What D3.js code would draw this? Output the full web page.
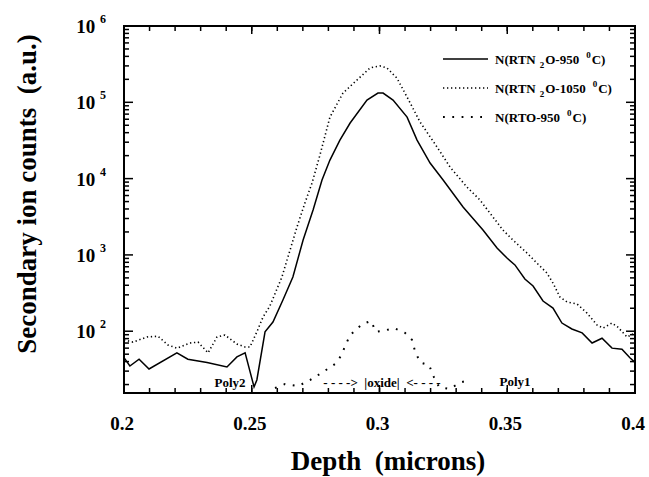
<!DOCTYPE html>
<html lang="en">
<head>
    <meta charset="UTF-8">
    <title>SIMS nitrogen depth profile</title>
    <script src="https://d3js.org/d3.v7.min.js"></script>
    <style>
        body { margin: 0; background: white; }
        svg { display: block; font-family: "Liberation Serif", "Times New Roman", serif; font-weight: bold; }
        text { white-space: pre; }
    </style>
</head>
<body>
    <svg id="chart" width="649" height="477"></svg>

    <script>
        // N(RTN2O-950 C), solid line
        const depth950 = [0.2, 0.2023, 0.2059, 0.2098, 0.2207, 0.2250, 0.2325, 0.2403, 0.2442, 0.2474,
            0.2509, 0.2520, 0.2552, 0.2583, 0.2622, 0.2661, 0.2701, 0.2740, 0.2775, 0.2806, 0.2845,
            0.2885, 0.2951, 0.2994, 0.3014, 0.3053, 0.3108, 0.3147, 0.3198, 0.3249, 0.3327, 0.3405,
            0.3460, 0.3499, 0.3530, 0.3569, 0.3601, 0.3640, 0.3679, 0.3714, 0.3753, 0.3793, 0.3832,
            0.3871, 0.3910, 0.3949, 0.3980, 0.4];
        const counts950 = [45, 35, 43, 32, 52, 43, 39, 34, 46, 52,
            18.6, 23, 98, 132, 257, 513, 1570, 3870, 9590, 17500, 32000,
            53500, 107000, 132000, 132000, 107000, 64000, 32000, 16000, 9590, 4250, 2120,
            1230, 910, 740, 483, 391, 249, 201, 128, 107, 95, 70,
            81, 60, 58, 45, 39];

        // N(RTN2O-1050 C), fine dotted line
        const depth1050 = [0.2, 0.2035, 0.2090, 0.2133, 0.2172, 0.2207, 0.2258, 0.2290, 0.2329, 0.2364,
            0.2395, 0.2442, 0.2474, 0.2493, 0.2520, 0.2544, 0.2571, 0.2618, 0.2650, 0.2677, 0.2708,
            0.2736, 0.2767, 0.2806, 0.2857, 0.2912, 0.2963, 0.3002, 0.3029, 0.3068, 0.3108, 0.3159,
            0.3225, 0.3276, 0.3342, 0.3393, 0.3444, 0.3483, 0.3522, 0.3577, 0.3616, 0.3655, 0.3679,
            0.3706, 0.3734, 0.3773, 0.3812, 0.3851, 0.3875, 0.3910, 0.3933, 0.3969, 0.4];
        const counts1050 = [77, 72, 84, 86, 66, 60, 70, 72, 52, 84,
            89, 68, 62, 62, 98, 153, 214, 513, 1160, 2320, 4790,
            8750, 20400, 64000, 132000, 196000, 282000, 300000, 282000, 208000, 117000, 55000,
            26000, 14200, 7760, 5250, 3140, 2120, 1570, 1060, 783, 580, 428,
            281, 241, 228, 173, 121, 110, 128, 113, 84, 95];

        // N(RTO-950 C), sparse dots
        const depthRTO = [0.2591, 0.2630, 0.2681, 0.2728, 0.2779, 0.2826, 0.2849, 0.2869, 0.2885, 0.2932,
            0.2967, 0.2986, 0.3014, 0.3057, 0.3100, 0.3127, 0.3139, 0.3159, 0.3194, 0.3213, 0.3233,
            0.3272, 0.3323, 0.3354];
        const countsRTO = [18, 20.3, 19.1, 22.9, 29.2, 37.2, 47.3, 68, 89, 124,
            136, 98, 101, 110, 95, 77, 55, 39, 36, 25, 18.6,
            17.5, 21.6, 23];

        const xMajorTicks = [0.2, 0.25, 0.3, 0.35, 0.4];
        const xTickLabels = ["0.2", "0.25", "0.3", "0.35", "0.4"];
        const yExponents = [2, 3, 4, 5, 6];

        const legendNames = [["N(RTN", "2", "O-950", "0", "C)"],
                             ["N(RTN", "2", "O-1050", "0", "C)"],
                             ["N(RTO-950", "", "", "0", "C)"]];

        const svg = d3.select("#chart");
        const plotLeft = 124, plotRight = 635, plotTop = 26, plotBottom = 393;

        let x = d3.scaleLinear().domain([0.2, 0.4]).range([plotLeft, plotRight]);
        let y = d3.scaleLog().domain([15.5, 1e6]).range([plotBottom, plotTop]);

        // tick positions
        let xMinor = d3.range(21).map(i => +(0.2 + i * 0.01).toFixed(2));
        let yMajor = yExponents.map(e => Math.pow(10, e));
        let yMinor = [];
        [1, 2, 3, 4, 5].forEach(e => {
            for (let m = 2; m <= 9; m++) {
                let v = m * Math.pow(10, e);
                if (v >= 15.5 && v < 1e6) yMinor.push(v);
            }
        });

        // inward ticks on all four sides
        let tickGroup = svg.append("g");
        function addTick(x1, y1, x2, y2) {
            tickGroup.append("line")
                .attr("x1", x1).attr("y1", y1).attr("x2", x2).attr("y2", y2)
                .attr("stroke", "black").attr("stroke-width", 1.5);
        }
        yMinor.forEach(v => { addTick(plotLeft, y(v), plotLeft + 5, y(v)); addTick(plotRight, y(v), plotRight - 5, y(v)); });
        yMajor.forEach(v => { addTick(plotLeft, y(v), plotLeft + 9, y(v)); addTick(plotRight, y(v), plotRight - 9, y(v)); });
        xMinor.forEach(v => { addTick(x(v), plotBottom, x(v), plotBottom - 5); addTick(x(v), plotTop, x(v), plotTop + 5); });
        xMajorTicks.forEach(v => { addTick(x(v), plotBottom, x(v), plotBottom - 8); addTick(x(v), plotTop, x(v), plotTop + 8); });

        // frame
        svg.append("rect")
            .attr("x", plotLeft).attr("y", plotTop)
            .attr("width", plotRight - plotLeft).attr("height", plotBottom - plotTop)
            .attr("fill", "none").attr("stroke", "black").attr("stroke-width", 2);

        // tick labels
        svg.selectAll(".xlab")
            .data(xMajorTicks)
            .enter().append("text")
            .attr("x", d => x(d) - 2)
            .attr("y", 430)
            .attr("text-anchor", "middle")
            .attr("font-size", 19)
            .text((d, i) => xTickLabels[i]);

        let ylab = svg.selectAll(".ylab")
            .data(yExponents)
            .enter().append("text")
            .attr("x", 106)
            .attr("y", d => y(Math.pow(10, d)) + 7)
            .attr("text-anchor", "end")
            .attr("font-size", 19);
        ylab.append("tspan").text("10 ");
        ylab.append("tspan").attr("font-size", 12).attr("dy", -10).text(d => d);

        // curves
        let line = d3.line().x(d => x(d[0])).y(d => y(d[1]));
        const series = [
            { xs: depth950, ys: counts950, dash: null, width: 1.5 },
            { xs: depth1050, ys: counts1050, dash: "1.3,2.7", width: 1.6 },
            { xs: depthRTO, ys: countsRTO, dash: "1.8,7.5", width: 2 }
        ];
        series.forEach(s => {
            svg.append("path")
                .datum(s.xs.map((d, i) => [d, s.ys[i]]))
                .attr("d", line)
                .attr("fill", "none")
                .attr("stroke", "black")
                .attr("stroke-width", s.width)
                .attr("stroke-dasharray", s.dash);
        });

        // legend
        legendNames.forEach((parts, i) => {
            let ly = 59 + i * 29;
            svg.append("line")
                .attr("x1", 443).attr("x2", 488)
                .attr("y1", ly).attr("y2", ly)
                .attr("stroke", "black")
                .attr("stroke-width", series[i].width)
                .attr("stroke-dasharray", series[i].dash);
            let t = svg.append("text").attr("x", 495).attr("y", ly + 5).attr("font-size", 13);
            t.append("tspan").text(parts[0]);
            if (parts[1]) {
                t.append("tspan").attr("font-size", 9).attr("dx", 4).attr("dy", 4).text(parts[1]);
                t.append("tspan").attr("dx", 1).attr("dy", -4).text(parts[2]);
            }
            t.append("tspan").attr("font-size", 9).attr("dx", 7).attr("dy", -6).text(parts[3]);
            t.append("tspan").attr("dx", 1).attr("dy", 6).text(parts[4]);
        });

        // region annotations
        svg.append("text").attr("x", 230).attr("y", 387).attr("text-anchor", "middle")
            .attr("font-size", 13).text("Poly2");
        svg.append("text").attr("x", 382).attr("y", 387).attr("text-anchor", "middle")
            .attr("font-size", 13).text("- - - ->  |oxide|  <- - - -");
        svg.append("text").attr("x", 515).attr("y", 386).attr("text-anchor", "middle")
            .attr("font-size", 13).text("Poly1");

        // axis titles
        svg.append("text")
            .attr("x", 388).attr("y", 470)
            .attr("text-anchor", "middle")
            .attr("font-size", 27)
            .text("Depth  (microns)");
        svg.append("text")
            .attr("transform", "translate(36,194) rotate(-90)")
            .attr("text-anchor", "middle")
            .attr("font-size", 27)
            .text("Secondary ion counts  (a.u.)");
    </script>
</body>
</html>
